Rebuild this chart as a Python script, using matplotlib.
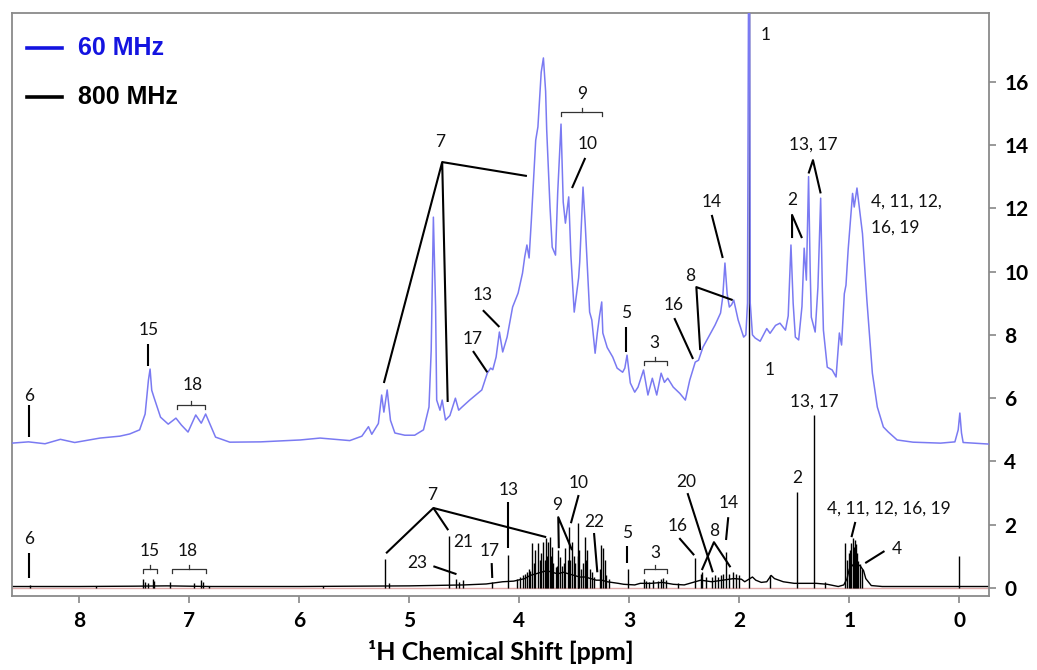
import matplotlib

matplotlib.use("Agg")

import matplotlib.pyplot as plt

FONT = ["Lato", "DejaVu Sans"]
plt.rcParams["font.family"] = FONT

# 60 MHz benchtop spectrum, traced (ppm, intensity)
ppm60 = [8.61, 8.46, 8.31, 8.17, 8.04, 7.81, 7.63, 7.54, 7.45, 7.40, 7.37, 7.355, 7.34, 7.32,
         7.26, 7.19, 7.12, 7.07, 7.01, 6.94, 6.89, 6.85, 6.76, 6.63, 6.35, 5.99, 5.81, 5.54,
         5.43, 5.37, 5.34, 5.28, 5.25, 5.23, 5.20, 5.17, 5.13, 5.04, 4.95, 4.87, 4.82, 4.80,
         4.78, 4.76, 4.75, 4.72, 4.70, 4.67, 4.63, 4.58, 4.55, 4.52, 4.45, 4.34, 4.29, 4.26,
         4.24, 4.21, 4.18, 4.15, 4.11, 4.06, 4.01, 3.97, 3.95, 3.93, 3.91, 3.89, 3.85, 3.83,
         3.80, 3.78, 3.76, 3.75, 3.72, 3.70, 3.67, 3.65, 3.62, 3.60, 3.58, 3.55, 3.53, 3.50,
         3.46, 3.45, 3.42, 3.40, 3.38, 3.36, 3.34, 3.31, 3.29, 3.27, 3.25, 3.24, 3.20, 3.15,
         3.11, 3.06, 3.04, 3.02, 2.99, 2.95, 2.92, 2.87, 2.83, 2.79, 2.75, 2.71, 2.68, 2.65,
         2.60, 2.54, 2.49, 2.45, 2.40, 2.37, 2.33, 2.26, 2.22, 2.17, 2.15, 2.13, 2.11, 2.09,
         2.07, 2.05, 2.01, 1.96, 1.94, 1.925, 1.91, 1.90, 1.88, 1.855, 1.81, 1.75, 1.72, 1.67,
         1.63, 1.58, 1.555, 1.53, 1.51, 1.49, 1.46, 1.43, 1.41, 1.39, 1.37, 1.355, 1.345, 1.31,
         1.285, 1.26, 1.245, 1.235, 1.20, 1.155, 1.12, 1.09, 1.07, 1.045, 1.03, 1.01, 0.97,
         0.955, 0.93, 0.88, 0.84, 0.79, 0.745, 0.69, 0.645, 0.565, 0.42, 0.17, 0.04, 0.01,
         -0.005, -0.02, -0.035, -0.27]
int60 = [4.58, 4.62, 4.56, 4.70, 4.60, 4.74, 4.80, 4.87, 5.00, 5.50, 6.57, 6.92, 6.25, 6.03,
         5.40, 5.18, 5.37, 5.15, 4.93, 5.47, 5.21, 5.50, 4.77, 4.61, 4.62, 4.68, 4.74, 4.66,
         4.80, 5.10, 4.86, 5.20, 6.10, 5.56, 6.26, 5.30, 4.90, 4.83, 4.83, 5.00, 5.72, 7.50,
         11.72, 8.90, 5.94, 5.62, 5.94, 5.31, 5.45, 6.00, 5.62, 5.72, 5.94, 6.26, 6.79, 6.95,
         6.90, 7.30, 8.09, 7.46, 7.93, 8.88, 9.32, 9.95, 10.46, 10.84, 10.43, 11.60, 14.15, 14.57,
         16.30, 16.75, 15.70, 14.47, 12.04, 10.77, 10.52, 12.50, 14.66, 12.20, 11.53, 12.36, 10.50, 8.72,
         9.80, 10.30, 12.67, 11.50, 10.14, 8.72, 8.47, 7.42, 8.06, 8.60, 9.04, 8.06, 7.60, 7.30,
         6.95, 6.82, 6.95, 7.36, 6.48, 6.19, 6.35, 6.89, 6.10, 6.63, 6.10, 6.79, 6.50, 6.63,
         6.35, 6.15, 5.94, 6.57, 7.14, 7.20, 7.61, 8.06, 8.31, 8.69, 9.20, 10.27, 9.30, 8.88,
         8.95, 9.10, 8.47, 7.93, 8.00, 9.00, 25.0, 9.00, 8.00, 7.90, 7.80, 8.20, 8.05, 8.30,
         8.37, 8.15, 8.60, 10.84, 9.00, 7.93, 7.84, 8.90, 10.74, 9.73, 13.00, 10.00, 8.56, 8.09,
         9.50, 12.32, 9.50, 8.15, 6.98, 6.89, 6.67, 8.06, 7.68, 9.30, 9.57, 10.70, 12.47,
         12.04, 12.64, 11.20, 9.10, 6.79, 5.72, 5.09, 4.93, 4.68, 4.61, 4.58, 4.62, 5.00,
         5.53, 4.90, 4.60, 4.55]

# 800 MHz spectrum: broad baseline (ppm, level) plus sharp lines (ppm, height)
base800_ppm = [8.61, 8.0, 7.5, 7.2, 6.8, 6.0, 5.5, 5.0, 4.5, 4.3, 4.15, 4.05, 3.95, 3.9,
               3.85, 3.8, 3.75, 3.7, 3.65, 3.6, 3.55, 3.5, 3.45, 3.4, 3.35, 3.3, 3.25, 3.2,
               3.1, 3.05, 2.95, 2.9, 2.8, 2.7, 2.6, 2.5, 2.45, 2.35, 2.25, 2.15, 2.05, 1.98,
               1.95, 1.88, 1.85, 1.8, 1.75, 1.71, 1.68, 1.6, 1.5, 1.4, 1.3, 1.2, 1.1, 1.05,
               1.02, 1.0, 0.95, 0.9, 0.87, 0.85, 0.8, 0.7, 0.6, -0.27]
base800_int = [0.05, 0.05, 0.06, 0.07, 0.05, 0.05, 0.06, 0.07, 0.10, 0.13, 0.20, 0.22, 0.30, 0.40,
               0.45, 0.50, 0.55, 0.50, 0.45, 0.50, 0.45, 0.40, 0.35, 0.35, 0.30, 0.25, 0.25, 0.20,
               0.15, 0.12, 0.10, 0.15, 0.15, 0.18, 0.12, 0.10, 0.15, 0.25, 0.20, 0.25, 0.30, 0.28,
               0.20, 0.35, 0.25, 0.18, 0.20, 0.40, 0.30, 0.20, 0.15, 0.15, 0.15, 0.12, 0.05, 0.10,
               0.30, 0.60, 0.80, 0.70, 0.55, 0.30, 0.08, 0.05, 0.05, 0.05]
line800_ppm = [8.45, 7.85, 7.42, 7.40, 7.37, 7.33, 7.32, 7.175, 6.96, 6.89, 6.87, 6.82, 5.78,
               5.22, 5.185, 4.636, 4.57, 4.545, 4.51, 4.245, 4.10,
               4.02, 3.99, 3.97, 3.945, 3.93, 3.91, 3.90, 3.88, 3.865, 3.855, 3.83, 3.815, 3.80,
               3.78, 3.765, 3.755, 3.745, 3.735, 3.72, 3.71, 3.70, 3.69, 3.67, 3.66, 3.645,
               3.63, 3.61, 3.595, 3.58, 3.56, 3.545, 3.535, 3.52, 3.50, 3.49, 3.47, 3.465,
               3.455, 3.44, 3.42, 3.40, 3.39, 3.38, 3.36, 3.34, 3.32, 3.27, 3.255, 3.235,
               3.22, 3.21, 3.18,
               3.01, 2.87, 2.85, 2.82, 2.78, 2.74, 2.71, 2.69, 2.67, 2.56, 2.40, 2.35, 2.335,
               2.30, 2.25, 2.22, 2.19, 2.17, 2.15, 2.12, 2.09, 2.06, 2.03, 2.00, 1.91, 1.72,
               1.473, 1.318, 1.22, 1.036, 1.018, 1.0, 0.99, 0.98, 0.964, 0.955, 0.945, 0.936,
               0.927, 0.918, 0.90, 0.88, 0.0]
line800_h = [0.10, 0.08, 0.28, 0.20, 0.17, 0.28, 0.22, 0.20, 0.17, 0.25, 0.20, 0.08, 0.08,
             0.93, 0.15, 1.65, 0.28, 0.20, 0.25, 0.18, 1.05,
             0.30, 0.35, 0.40, 0.45, 0.50, 0.60, 0.55, 1.42, 0.80, 1.20, 1.42, 0.90, 1.10,
             1.46, 0.90, 1.58, 1.00, 1.46, 1.62, 1.00, 1.30, 0.80, 0.67, 0.70, 1.20,
             0.98, 0.70, 0.80, 1.26, 0.90, 1.93, 0.90, 1.46, 1.00, 0.80, 2.05, 1.00,
             1.20, 0.60, 0.80, 1.62, 0.90, 1.20, 0.60, 0.50, 0.35, 0.60, 1.36, 1.26,
             0.90, 0.40, 0.30,
             0.60, 0.28, 0.22, 0.20, 0.25, 0.22, 0.30, 0.32, 0.25, 0.15, 0.95, 0.45, 0.50,
             0.35, 0.35, 0.40, 0.35, 0.40, 0.45, 1.14, 0.45, 0.50, 0.45, 0.40, 25.0, 0.42,
             3.03, 5.47, 0.20, 1.42, 0.90, 1.10, 1.20, 1.42, 1.58, 1.30, 1.52, 1.40,
             1.10, 0.85, 0.75, 0.60, 1.00]

x_ticks = [8, 7, 6, 5, 4, 3, 2, 1, 0]
y_ticks = [0, 2, 4, 6, 8, 10, 12, 14, 16]

BLUE = "#7a7af2"
LEG_BLUE = "#1414e0"
ANN_FS = 12.5


def label(ax, x, y, s, ha="center"):
    ax.text(x, y, s, fontsize=ANN_FS, ha=ha, va="center", color="#111111", family=FONT)


def leader(ax, xs, ys):
    ax.plot(xs, ys, color="black", lw=1.5, solid_capstyle="butt", zorder=5)


def bracket(ax, x0, x1, y, drop=0.13, lw=0.9):
    xm = (x0 + x1) / 2
    ax.plot([x0, x0, x1, x1], [y - drop, y, y, y - drop], color="#333333", lw=lw, zorder=5)
    ax.plot([xm, xm], [y, y + drop], color="#333333", lw=lw, zorder=5)


fig = plt.figure(figsize=(10.37, 6.70), dpi=100)
ax = fig.add_axes([12 / 1037, 1 - 596 / 670, 977 / 1037, 583 / 670])

ax.axhline(0, color="#e0aaaa", lw=1.0, zorder=1)
ax.plot(base800_ppm, base800_int, color="black", lw=1.0, zorder=2)
ax.vlines(line800_ppm, 0, line800_h, color="black", lw=1.0, zorder=2)
ax.plot(ppm60, int60, color=BLUE, lw=1.1, zorder=3)

ax.set_xlim(8.61, -0.27)
ax.set_ylim(-0.25, 18.17)
ax.set_xticks(x_ticks)
ax.set_yticks(y_ticks)
ax.yaxis.tick_right()
ax.tick_params(axis="both", direction="out", color="#888888", width=1.2, length=5,
               labelsize=15, pad=6)
for lab in ax.get_xticklabels() + ax.get_yticklabels():
    lab.set_fontweight("bold")
for sp in ax.spines.values():
    sp.set_color("#8a8a8a")
    sp.set_linewidth(1.3)
ax.set_xlabel("¹H Chemical Shift [ppm]", fontsize=18, fontweight="bold", labelpad=6)

# legend drawn by hand to match the original placement
ax.plot([0.0154, 0.0512], [0.94, 0.94], color=LEG_BLUE, lw=2.6, transform=ax.transAxes)
ax.plot([0.0154, 0.0512], [0.856, 0.856], color="black", lw=2.6, transform=ax.transAxes)
ax.text(0.0676, 0.94, "60 MHz", transform=ax.transAxes, color=LEG_BLUE, fontsize=18,
        fontweight="bold", va="center", family=["Liberation Sans", "DejaVu Sans"])
ax.text(0.0676, 0.856, "800 MHz", transform=ax.transAxes, color="black", fontsize=18,
        fontweight="bold", va="center", family=["Liberation Sans", "DejaVu Sans"])

# --- 60 MHz assignments ---
label(ax, 8.455, 6.07, "6")
leader(ax, [8.455, 8.455], [5.78, 4.77])
label(ax, 7.37, 8.15, "15")
leader(ax, [7.37, 7.37], [7.71, 7.01])
label(ax, 6.97, 6.41, "18")
bracket(ax, 7.11, 6.86, 5.78)
label(ax, 4.72, 14.09, "7")
leader(ax, [5.23, 4.70, 4.65], [6.48, 13.46, 5.88])
leader(ax, [4.70, 3.93], [13.46, 13.02])
label(ax, 4.33, 9.26, "13")
leader(ax, [4.33, 4.18], [8.78, 8.25])
label(ax, 4.42, 7.87, "17")
leader(ax, [4.42, 4.29], [7.49, 6.82])
label(ax, 3.43, 15.6, "9")
bracket(ax, 3.62, 3.245, 15.04)
label(ax, 3.38, 14.03, "10")
leader(ax, [3.40, 3.52], [13.59, 12.64])
label(ax, 2.25, 12.2, "14")
leader(ax, [2.25, 2.15], [11.79, 10.43])
label(ax, 2.45, 9.86, "8")
leader(ax, [2.355, 2.39, 2.06], [7.52, 9.51, 9.1])
label(ax, 2.60, 8.94, "16")
leader(ax, [2.59, 2.42], [8.53, 7.24])
label(ax, 3.03, 8.69, "5")
leader(ax, [3.03, 3.03], [8.25, 7.46])
label(ax, 2.77, 7.74, "3")
bracket(ax, 2.87, 2.66, 7.17)
label(ax, 1.76, 17.47, "1")
label(ax, 1.52, 12.26, "2")
leader(ax, [1.52, 1.52, 1.43], [11.06, 11.79, 11.06])
label(ax, 1.33, 14.0, "13, 17")
leader(ax, [1.37, 1.33, 1.26], [13.1, 13.52, 12.47])
label(ax, 0.80, 12.2, "4, 11, 12,", ha="left")
label(ax, 0.80, 11.4, "16, 19", ha="left")

# --- 800 MHz assignments ---
label(ax, 8.455, 1.55, "6")
leader(ax, [8.455, 8.455], [1.1, 0.32])
label(ax, 7.355, 1.17, "15")
bracket(ax, 7.42, 7.29, 0.6)
label(ax, 7.01, 1.17, "18")
bracket(ax, 7.16, 6.85, 0.6)
label(ax, 4.79, 2.94, "7")
leader(ax, [5.21, 4.78, 4.645], [1.1, 2.53, 1.83])
leader(ax, [4.78, 3.755], [2.53, 1.61])
label(ax, 4.51, 1.45, "21")
label(ax, 4.93, 0.79, "23")
leader(ax, [4.78, 4.57], [0.69, 0.44])
label(ax, 4.27, 1.17, "17")
leader(ax, [4.25, 4.245], [0.79, 0.32])
label(ax, 4.10, 3.1, "13")
leader(ax, [4.10, 4.10], [2.72, 1.26])
label(ax, 3.655, 2.62, "9")
leader(ax, [3.64, 3.645, 3.52], [1.26, 2.24, 1.2])
label(ax, 3.46, 3.32, "10")
leader(ax, [3.46, 3.53], [2.94, 2.05])
label(ax, 3.32, 2.09, "22")
leader(ax, [3.32, 3.29], [1.74, 0.5])
label(ax, 3.02, 1.74, "5")
leader(ax, [3.02, 3.02], [1.33, 0.79])
label(ax, 2.76, 1.1, "3")
bracket(ax, 2.87, 2.66, 0.6)
label(ax, 2.56, 1.96, "16")
leader(ax, [2.545, 2.41], [1.58, 1.04])
label(ax, 2.48, 3.35, "20")
leader(ax, [2.47, 2.24], [3.0, 0.5])
label(ax, 2.23, 1.8, "8")
leader(ax, [2.34, 2.23, 2.08], [0.57, 1.45, 0.66])
label(ax, 2.10, 2.69, "14")
leader(ax, [2.10, 2.12], [2.24, 1.52])
label(ax, 1.72, 6.89, "1")
label(ax, 1.32, 5.88, "13, 17")
label(ax, 1.47, 3.48, "2")
label(ax, 0.64, 2.5, "4, 11, 12, 16, 19")
leader(ax, [0.945, 0.98], [2.09, 1.61])
label(ax, 0.57, 1.23, "4")
leader(ax, [0.68, 0.855], [1.17, 0.79])

fig.savefig("out.png", dpi=100)
